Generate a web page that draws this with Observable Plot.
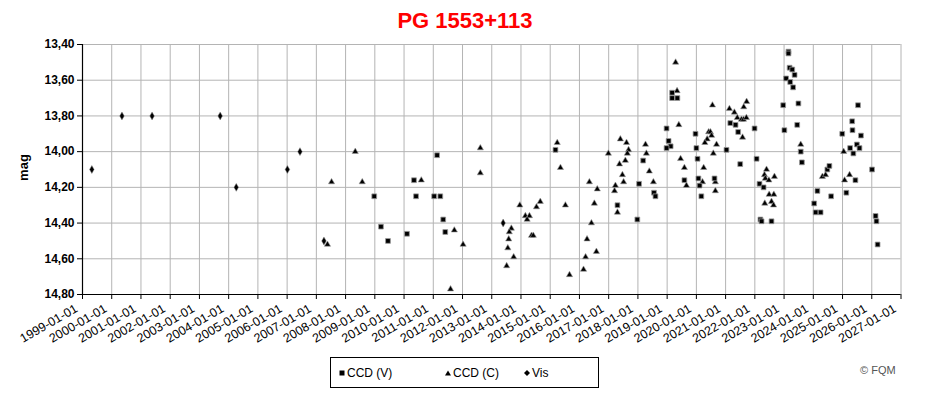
<!DOCTYPE html>
<html><head><meta charset="utf-8">
<script src="https://cdn.jsdelivr.net/npm/d3@7"></script>
<script src="https://cdn.jsdelivr.net/npm/@observablehq/plot@0.6"></script>
<style>
body{margin:0;background:#fff;font-family:"Liberation Sans",Arial,sans-serif;}
#wrap{position:relative;width:930px;height:395px;overflow:hidden;background:#fff;}
#title{position:absolute;left:0;top:8px;width:930px;text-align:center;color:#ff0000;font-weight:bold;font-size:22px;line-height:26px;}
#chart{position:absolute;left:0;top:30px;}
#ylabel{position:absolute;left:8px;top:160px;width:30px;text-align:center;transform:rotate(-90deg);font-weight:bold;font-size:13px;}
#legend{position:absolute;left:330px;top:357px;width:269px;height:31px;border:1px solid #000;box-sizing:border-box;font-size:12px;}
#legend span{position:absolute;top:8px;white-space:nowrap;}
#legend svg{position:absolute;top:11px;}
#copy{position:absolute;left:860px;top:364px;font-size:11px;color:#555;}
</style></head>
<body>
<div id="wrap">
<div id="title">PG 1553+113</div>
<div id="chart"></div>
<div id="ylabel">mag</div>
<div id="legend">
<svg style="left:7px" width="8" height="8"><rect x="1.5" y="1.5" width="5" height="5" fill="#000"/></svg><span style="left:16px">CCD (V)</span>
<svg style="left:113px" width="8" height="8"><path d="M4,1.5 L7,6.5 L1,6.5 Z" fill="#000"/></svg><span style="left:122px">CCD (C)</span>
<svg style="left:192px" width="8" height="8"><path d="M4,1 L7,4 L4,7 L1,4 Z" fill="#000"/></svg><span style="left:201px">Vis</span>
</div>
<div id="copy">© FQM</div>
</div>
<script>
// Tick values
const xTicks = d3.range(1999, 2028);
const yTicks = [13.4, 13.6, 13.8, 14.0, 14.2, 14.4, 14.6, 14.8];

// CCD (V) series: decimal year, magnitude
const vYear = [2008.98,2009.21,2009.45,2010.10,2010.34,2010.41,2011.03,2011.24,2011.13,2011.34,2011.41,
  2015.18,2017.30,2017.98,2018.04,2018.18,2018.55,2018.60,2018.98,2019.05,2019.12,2018.98,2019.17,2019.35,2019.17,
  2019.59,2019.97,2020.00,2020.04,2020.07,2020.11,2020.17,2020.62,2021.03,2021.16,2021.34,2021.43,2021.50,2021.99,
  2022.06,2022.16,2022.30,2022.19,2022.23,2022.57,2023.01,2022.97,2023.15,2023.15,2023.19,2023.28,2023.36,2023.07,
  2023.21,2023.31,2023.49,2023.45,2023.57,2023.61,2024.03,2024.08,2024.25,2024.14,2024.61,2024.48,2024.55,2025.13,
  2025.44,2024.99,2025.33,2025.34,2025.53,2025.63,2025.26,2025.49,2025.58,2025.37,2026.01,2026.13,2026.16,2026.20];
const vMag = [14.25,14.42,14.50,14.46,14.16,14.25,14.25,14.25,14.02,14.38,14.45,
  13.99,14.30,14.38,14.18,14.05,14.23,14.25,13.87,13.94,13.97,13.98,13.67,13.70,13.70,
  14.16,13.90,13.98,14.04,14.15,14.19,14.25,14.15,13.99,13.84,13.85,13.89,14.07,13.87,
  14.04,14.18,14.20,14.38,14.39,14.39,13.88,13.74,13.44,13.45,13.53,13.54,13.57,13.59,
  13.61,13.64,13.73,13.85,14.00,14.06,14.29,14.34,14.34,14.22,14.25,14.10,14.08,14.23,
  14.16,13.90,13.83,13.88,13.74,13.91,13.98,13.96,13.98,14.01,14.10,14.36,14.39,14.52];

// CCD (C) series
const cYear = [2007.38,2007.52,2008.33,2008.57,2010.59,2011.72,2012.02,2011.59,2012.61,2012.61,
  2013.67,2013.60,2013.58,2013.55,2013.75,2013.51,2013.96,2014.15,2014.29,2014.21,2014.36,2014.42,2014.53,2014.66,
  2015.24,2015.35,2015.52,2015.66,2016.14,2016.21,2016.26,2016.41,2016.51,2016.58,2016.34,2016.61,
  2016.99,2017.20,2017.23,2017.30,2017.40,2017.61,2017.68,2017.64,2017.57,2017.37,2017.47,2017.51,
  2018.26,2018.29,2018.39,2018.53,2019.29,2019.34,2019.40,2019.46,2019.59,2019.66,
  2020.21,2020.25,2020.42,2020.48,2020.52,2020.37,2020.29,2020.69,2020.58,2020.65,2020.65,2020.55,
  2021.13,2021.30,2021.40,2021.54,2021.61,2021.71,2021.62,2021.72,2021.58,
  2022.40,2022.33,2022.36,2022.48,2022.67,2022.49,2022.65,2022.34,2022.57,2022.64,
  2023.57,2024.31,2024.42,2025.07,2025.24,2025.04];
const cMag = [14.52,14.17,14.00,14.17,14.16,14.44,14.52,14.77,13.98,14.12,
  14.43,14.45,14.49,14.54,14.59,14.64,14.30,14.36,14.36,14.38,14.47,14.47,14.31,14.28,
  13.95,14.09,14.30,14.69,14.66,14.59,14.49,14.40,14.29,14.56,14.17,14.21,
  14.01,14.22,14.19,14.34,13.93,13.95,13.99,14.01,14.05,14.07,14.13,14.17,
  13.96,14.01,14.11,14.17,13.50,13.66,13.85,14.04,14.09,14.19,
  14.17,14.09,13.89,13.89,13.91,13.93,13.95,13.96,14.01,14.17,14.22,13.74,
  13.76,13.78,13.81,13.82,13.82,13.81,13.75,13.72,13.92,
  14.10,14.13,14.15,14.16,14.14,14.24,14.24,14.29,14.28,14.30,
  13.96,14.14,14.13,14.16,14.13,14.00];

// Vis series
const visYear = [1999.32,2000.35,2001.38,2003.71,2004.26,2006.01,2006.44,2007.26,2013.39];
const visMag = [14.10,13.80,13.80,13.80,14.20,14.10,14.00,14.50,14.40];

const toRows = (xs, ys) => xs.map((x, i) => ({x, y: ys[i]}));
const fmtY = d => d.toFixed(2).replace(".", ",");

const chart = Plot.plot({
  width: 930,
  height: 320,
  marginTop: 14,
  marginBottom: 56,
  marginLeft: 82,
  marginRight: 29.5,
  style: {fontFamily: '"Liberation Sans", Arial, sans-serif', fontSize: "12px", background: "#fff", color: "#000"},
  x: {domain: [1999, 2027]},
  y: {domain: [13.4, 14.8], reverse: true},
  marks: [
    Plot.gridX(xTicks, {stroke: "#b4b4b4", strokeOpacity: 1}),
    Plot.gridY(yTicks, {stroke: "#b4b4b4", strokeOpacity: 1}),
    Plot.axisY(yTicks, {tickFormat: fmtY, tickSize: 5, tickPadding: 3, fontWeight: "bold", fontSize: 12, label: null}),
    Plot.axisX(xTicks, {tickFormat: () => "", tickSize: 5, label: null}),
    Plot.axisX(xTicks, {tickFormat: d => `${d}-01-01`, tickSize: 0, tickPadding: 13, tickRotate: -30, fontSize: 12.5, label: null, dx: -6, stroke: "#000", strokeWidth: 0.25}),
    Plot.ruleX([1999], {stroke: "#000", strokeWidth: 1.2}),
    Plot.ruleY([14.8], {stroke: "#000", strokeWidth: 1.2}),
    Plot.dot(toRows(visYear, visMag), {x: "x", y: "y", symbol: "diamond", r: 2.4, fill: "#000", stroke: "#888", strokeWidth: 0.5}),
    Plot.dot(toRows(cYear, cMag), {x: "x", y: "y", symbol: "triangle", r: 2.3, fill: "#000", stroke: "#999", strokeWidth: 0.6}),
    Plot.dot(toRows(vYear, vMag), {x: "x", y: "y", symbol: "square", r: 2.7, fill: "#000", stroke: "#999", strokeWidth: 0.8})
  ]
});
document.getElementById("chart").append(chart);
</script>
</body></html>
